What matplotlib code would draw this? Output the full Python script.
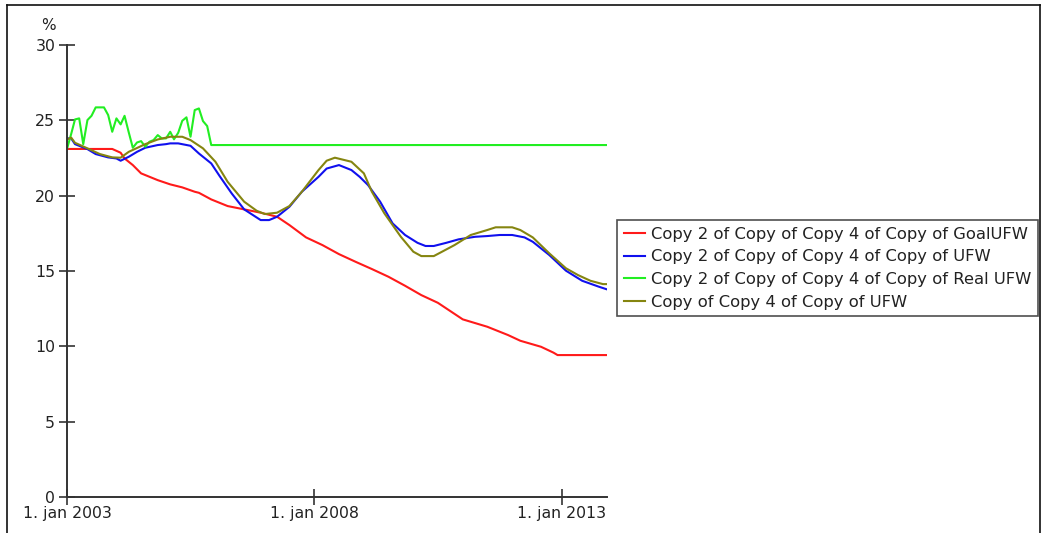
import matplotlib
matplotlib.use("Agg")
import matplotlib.pyplot as plt
from matplotlib.lines import Line2D
from datetime import datetime

# month offsets from Jan 2003 and values (%)
goal_months = [0, 11, 13, 14, 16, 18, 22, 25, 28, 31, 32, 35, 39, 43, 47, 51, 54, 58, 62, 66,
               70, 74, 78, 82, 86, 90, 96, 102, 107, 110, 115, 118, 119, 131]
goal_vals = [23.1, 23.1, 22.85, 22.47, 22.03, 21.48, 21.03, 20.75, 20.55, 20.26, 20.19, 19.75,
             19.31, 19.09, 18.87, 18.6, 18.05, 17.23, 16.72, 16.12, 15.61, 15.13, 14.62, 14.02,
             13.4, 12.89, 11.79, 11.3, 10.75, 10.37, 9.97, 9.58, 9.42, 9.42]

ufw_months = [0, 1, 2, 5, 7, 10, 12, 13, 15, 17, 19, 22, 24, 25, 27, 30, 32, 35, 37, 40, 43, 47,
              49, 51, 54, 57, 61, 63, 66, 69, 71, 73, 76, 79, 82, 85, 87, 89, 92, 95, 99, 102,
              105, 108, 111, 113, 117, 121, 125, 129, 131]
ufw_vals = [23.8, 23.8, 23.42, 23.09, 22.76, 22.54, 22.47, 22.32, 22.58, 22.91, 23.18, 23.36,
            23.42, 23.47, 23.47, 23.31, 22.8, 22.14, 21.3, 20.15, 19.09, 18.38, 18.38, 18.6,
            19.26, 20.26, 21.25, 21.8, 22.03, 21.7, 21.25, 20.7, 19.6, 18.16, 17.39, 16.87,
            16.66, 16.66, 16.87, 17.1, 17.27, 17.32, 17.39, 17.39, 17.23, 16.94, 16.06, 15.02,
            14.35, 13.96, 13.78]

real_months = [0, 1, 2, 3, 4, 5, 6, 7, 8, 9, 10, 11, 12, 13, 14, 15, 16, 17, 18, 19, 20, 21, 22,
               23, 24, 25, 26, 27, 28, 29, 30, 31, 32, 33, 34, 35, 131]
real_vals = [23.1, 24.1, 25.06, 25.13, 23.42, 25.02, 25.3, 25.86, 25.86, 25.86, 25.35, 24.24,
             25.13, 24.73, 25.3, 24.2, 23.18, 23.53, 23.62, 23.25, 23.58, 23.69, 24.02, 23.8,
             23.8, 24.24, 23.74, 24.17, 24.97, 25.2, 23.91, 25.68, 25.79, 24.95, 24.62, 23.36,
             23.36]

copy_months = [0, 1, 2, 5, 8, 11, 13, 15, 19, 22, 25, 28, 30, 33, 36, 39, 43, 46, 48, 51, 54, 57,
               61, 63, 65, 69, 72, 74, 77, 81, 84, 86, 89, 91, 94, 98, 102, 104, 108, 110, 113,
               117, 121, 124, 127, 130, 131]
copy_vals = [23.73, 23.85, 23.51, 23.14, 22.76, 22.54, 22.52, 22.91, 23.42, 23.73, 23.91, 23.91,
             23.69, 23.14, 22.25, 20.92, 19.6, 19.0, 18.78, 18.87, 19.31, 20.26, 21.7, 22.32,
             22.52, 22.25, 21.48, 20.26, 18.83, 17.27, 16.28, 15.99, 15.99, 16.28, 16.72, 17.39,
             17.72, 17.9, 17.9, 17.72, 17.23, 16.17, 15.18, 14.73, 14.35, 14.13, 14.13]

labels = ["Copy 2 of Copy of Copy 4 of Copy of GoalUFW",
          "Copy 2 of Copy of Copy 4 of Copy of UFW",
          "Copy 2 of Copy of Copy 4 of Copy of Real UFW",
          "Copy of Copy 4 of Copy of UFW"]
colors = ["#ff1a1a", "#1010ee", "#22ee22", "#858510"]
y_ticks = [0, 5, 10, 15, 20, 25, 30]
x_tick_years = [2003, 2008, 2013]
x_tick_labels = ["1. jan 2003", "1. jan 2008", "1. jan 2013"]


def to_dates(months):
    return [datetime(2003 + m // 12, m % 12 + 1, 1) for m in months]


W, H = 1041, 533
fig = plt.figure(figsize=(W / 100, H / 100), dpi=100)
ax = fig.add_axes([67 / W, 1 - 497 / H, (607 - 67) / W, (497 - 45) / H])

series = [(goal_months, goal_vals), (ufw_months, ufw_vals),
          (real_months, real_vals), (copy_months, copy_vals)]
for (m, v), c, lab in zip(series, colors, labels):
    ax.plot(to_dates(m), v, color=c, lw=1.5, label=lab)

ax.set_xlim(datetime(2003, 1, 1), datetime(2013, 12, 1))
ax.set_ylim(0, 30)
ax.set_yticks(y_ticks)
ax.set_xticks([datetime(y, 1, 1) for y in x_tick_years])
ax.set_xticklabels(x_tick_labels)

txt = "#222222"
for s in ["top", "right"]:
    ax.spines[s].set_visible(False)
for s in ["left", "bottom"]:
    ax.spines[s].set_color("#333333")
    ax.spines[s].set_linewidth(1.4)
ax.tick_params(direction="inout", length=11, width=1.2, color="#333333",
               labelsize=11.3, labelcolor=txt, pad=1)
ax.tick_params(axis="y", pad=3)
ax.patch.set_visible(False)

fig.text(48 / W, 1 - 25 / H, "%", fontsize=11, color=txt, ha="center", va="center")

handles = [Line2D([0], [0], color=c, lw=1.5) for c in colors]
leg = fig.legend(handles, labels, loc="upper left",
                 bbox_to_anchor=(617 / W, 1 - 220 / H), fontsize=11.8,
                 frameon=True, fancybox=False, borderpad=0.4, labelspacing=0.47,
                 handlelength=1.3, handletextpad=0.35, borderaxespad=0)
leg.get_frame().set_edgecolor("#222222")
leg.get_frame().set_linewidth(1.2)
for t in leg.get_texts():
    t.set_color(txt)

# outer frame
fig.add_artist(Line2D([7 / W, 7 / W], [0, 1 - 5 / H], transform=fig.transFigure,
                      color="#111111", lw=1.2))
fig.add_artist(Line2D([7 / W, 1040 / W], [1 - 5 / H, 1 - 5 / H], transform=fig.transFigure,
                      color="#111111", lw=1.2))
fig.add_artist(Line2D([1040 / W, 1040 / W], [0, 1 - 5 / H], transform=fig.transFigure,
                      color="#111111", lw=1.2))

fig.savefig("out.png", dpi=100)
